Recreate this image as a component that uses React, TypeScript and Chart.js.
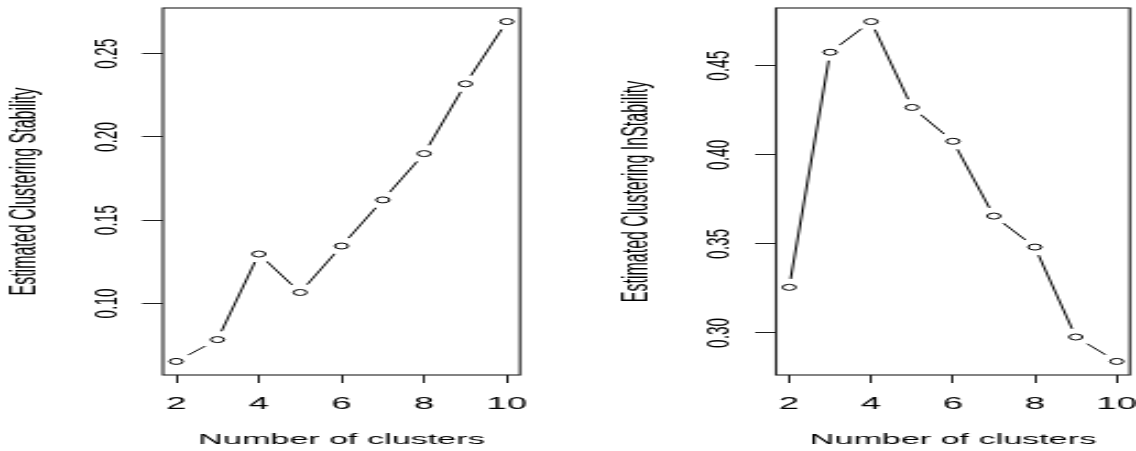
import React, { useEffect, useRef } from 'react';
import { Chart, registerables } from 'chart.js';

Chart.register(...registerables);

// ---- data ----
const CLUSTERS = [2, 3, 4, 5, 6, 7, 8, 9, 10];
const STABILITY = [0.0652, 0.0783, 0.1297, 0.1066, 0.1345, 0.1622, 0.19, 0.2319, 0.2693];
const INSTABILITY = [0.3256, 0.4576, 0.4748, 0.4266, 0.4076, 0.3656, 0.3482, 0.2977, 0.284];
const X_TICKS = [2, 4, 6, 8, 10];
const STABILITY_TICKS = [0.1, 0.15, 0.2, 0.25];
const INSTABILITY_TICKS = [0.3, 0.35, 0.4, 0.45];
const X_TITLE = 'Number of clusters';
const STABILITY_TITLE = 'Estimated Clustering Stability';
const INSTABILITY_TITLE = 'Estimated Clustering InStability';

// ---- rendering constants ----
const RENDER_W = 258;
const SCREEN_W = 568;
const H = 451;
const FONT = '"Liberation Sans", Arial, Helvetica, sans-serif';
const TEXT = '#000';
const AXIS = '#1e1e1e';

// R-like axis range: data range extended by 4% on each side
function rRange(vals: number[]) {
  const lo = Math.min(...vals);
  const hi = Math.max(...vals);
  const d = (hi - lo) * 0.04;
  return [lo - d, hi + d];
}

const framePlugin = {
  id: 'rframe',
  afterDatasetsDraw(chart: any) {
    const { ctx, chartArea: a } = chart;
    ctx.save();
    ctx.strokeStyle = AXIS;
    ctx.lineWidth = 1.1;
    ctx.strokeRect(a.left, a.top, a.right - a.left, a.bottom - a.top);
    ctx.restore();
  },
};

type PanelCfg = {
  values: number[];
  yTicks: number[];
  yTitle: string;
  yAxisWidth: number;
  yTitlePad: number;
  yTickPad: number;
  padRight: number;
};

const LEFT: PanelCfg = {
  values: STABILITY,
  yTicks: STABILITY_TICKS,
  yTitle: STABILITY_TITLE,
  yAxisWidth: 74.0,
  yTitlePad: 2.4,
  yTickPad: 0.6,
  padRight: 21.8,
};

const RIGHT: PanelCfg = {
  values: INSTABILITY,
  yTicks: INSTABILITY_TICKS,
  yTitle: INSTABILITY_TITLE,
  yAxisWidth: 94.5,
  yTitlePad: 22.2,
  yTickPad: 1.3,
  padRight: 2.8,
};

function zeroPad(s: any) {
  s.paddingLeft = 0;
  s.paddingRight = 0;
  s.paddingTop = 0;
  s.paddingBottom = 0;
}

function buildConfig(cfg: PanelCfg): any {
  const pts = CLUSTERS.map((x, i) => ({ x, y: cfg.values[i] }));
  const [xmin, xmax] = rRange(CLUSTERS);
  const [ymin, ymax] = rRange(cfg.values);
  return {
    type: 'line',
    data: {
      datasets: [
        {
          data: pts,
          showLine: false,
          pointRadius: 3,
          pointBorderWidth: 1,
          pointBorderColor: '#000',
          pointBackgroundColor: '#fff',
        },
        {
          data: pts,
          showLine: false,
          pointRadius: 8.5,
          pointBorderWidth: 0,
          pointBorderColor: '#fff',
          pointBackgroundColor: '#fff',
          clip: 0,
        },
        {
          data: pts,
          showLine: true,
          borderColor: '#000',
          borderWidth: 1,
          pointRadius: 0,
          fill: false,
          tension: 0,
        },
      ],
    },
    options: {
      animation: false,
      responsive: false,
      devicePixelRatio: 1,
      events: [],
      layout: {
        autoPadding: false,
        padding: { top: 8, left: 0, right: cfg.padRight, bottom: 0 },
      },
      plugins: {
        legend: { display: false },
        tooltip: { enabled: false },
      },
      scales: {
        x: {
          type: 'linear',
          min: xmin,
          max: xmax,
          afterBuildTicks: (s: any) => {
            s.ticks = X_TICKS.map((v) => ({ value: v }));
          },
          afterFit: (s: any) => {
            s.height = 76;
            zeroPad(s);
          },
          grid: {
            drawOnChartArea: false,
            drawTicks: true,
            tickLength: 8,
            color: AXIS,
            lineWidth: 1,
          },
          border: { display: false },
          ticks: {
            padding: 11.6,
            color: TEXT,
            autoSkip: false,
            minRotation: 0,
            maxRotation: 0,
            font: { family: FONT, size: 16.5 },
            callback: (v: any) => String(v),
          },
          title: {
            display: true,
            text: X_TITLE,
            color: TEXT,
            font: { family: FONT, size: 15.5 },
            padding: { top: 0, bottom: 1.7 },
          },
        },
        y: {
          type: 'linear',
          min: ymin,
          max: ymax,
          afterBuildTicks: (s: any) => {
            s.ticks = cfg.yTicks.map((v) => ({ value: v }));
          },
          afterFit: (s: any) => {
            s.width = cfg.yAxisWidth;
            zeroPad(s);
          },
          grid: {
            drawOnChartArea: false,
            drawTicks: true,
            tickLength: 9.5,
            color: AXIS,
            lineWidth: 1,
          },
          border: { display: false },
          ticks: {
            padding: cfg.yTickPad,
            crossAlign: 'center',
            minRotation: 90,
            maxRotation: 90,
            autoSkip: false,
            color: TEXT,
            font: { family: FONT, size: 15.5 },
            callback: (v: any) => Number(v).toFixed(2),
          },
          title: {
            display: true,
            text: cfg.yTitle,
            color: TEXT,
            font: { family: FONT, size: 16 },
            padding: { top: cfg.yTitlePad, bottom: 0 },
          },
        },
      },
    },
    plugins: [framePlugin],
  };
}

function Panel({ cfg }: { cfg: PanelCfg }) {
  const ref = useRef<HTMLCanvasElement>(null);
  useEffect(() => {
    const chart = new Chart(ref.current as HTMLCanvasElement, buildConfig(cfg));
    return () => chart.destroy();
  }, [cfg]);
  return (
    <canvas
      ref={ref}
      width={RENDER_W}
      height={H}
      style={{ width: SCREEN_W + 'px', height: H + 'px', display: 'block' }}
    />
  );
}

export default function App() {
  return (
    <div
      style={{
        position: 'absolute',
        left: 0,
        top: 0,
        width: 1136,
        height: H,
        background: '#fff',
        display: 'flex',
        flexDirection: 'row',
      }}
    >
      <Panel cfg={LEFT} />
      <Panel cfg={RIGHT} />
    </div>
  );
}
